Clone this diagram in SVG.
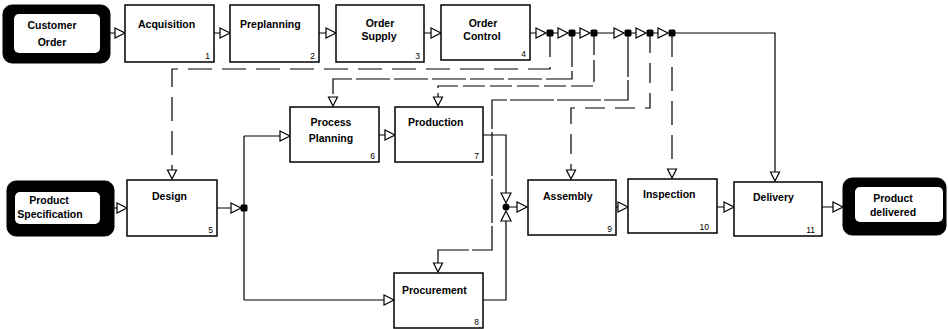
<svg xmlns="http://www.w3.org/2000/svg" xmlns:xlink="http://www.w3.org/1999/xlink" width="948" height="329" viewBox="0 0 948 329">
<style>
.box{fill:#fff;stroke:#000;stroke-width:1.5}
.term{fill:#000;stroke:#000;stroke-width:1}
.inner{fill:#fff;stroke:none}
.t{font-family:"Liberation Sans",Arial,sans-serif;font-weight:bold;font-size:10.5px;fill:#000}
.n{font-family:"Liberation Sans",Arial,sans-serif;font-size:8.5px;fill:#000;text-anchor:end}
.c{text-anchor:middle}
.ln{fill:none;stroke:#000;stroke-width:1.2}
.d1{stroke-dasharray:24 10}
.d2{stroke-dasharray:34 4}
.d3{stroke-dasharray:22 5}
.d4{stroke-dasharray:44 3}
.d5{stroke-dasharray:20 10}
.tri{fill:#fff;stroke:#000;stroke-width:1.2}
.dot{fill:#000}
</style>
<defs>
<polygon id="tr" class="tri" points="0,-5 10,0 0,5"/>
<polygon id="td" class="tri" points="-5,0 5,0 0,10"/>
<polygon id="tu" class="tri" points="-5,0 5,0 0,-10"/>
<polygon id="tc" class="tri" points="-4.5,-10 4.5,-10 0,-1"/>
<rect id="dt" class="dot" x="-3.5" y="-3.5" width="7" height="7" rx="1.5"/>
</defs>

<g id="connectors">
<path class="ln" d="M110 33H115M214 33H220M319 33H326M424 33H431"/>
<use href="#tr" x="115" y="33"/>
<use href="#tr" x="220" y="33"/>
<use href="#tr" x="326" y="33"/>
<use href="#tr" x="431" y="33"/>
<path class="ln" d="M530 33H536M553 33H558M575 33H580M597 33H614M631 33H636M653 33H658"/>
<path class="ln" d="M672 33H775V172"/>
<use href="#tc" x="775" y="182"/>
<path class="ln d1" d="M550 33V69H172V170"/>
<use href="#tc" x="172" y="180"/>
<path class="ln d2" d="M572 33V79H333V97"/>
<use href="#tc" x="333" y="107"/>
<path class="ln d3" d="M594 33V86H438V97"/>
<use href="#tc" x="438" y="107"/>
<path class="ln d4" d="M628 33V100H492V250H438V263"/>
<use href="#tc" x="438" y="273"/>
<path class="ln d5" d="M650 33V108H571V170"/>
<use href="#tc" x="571" y="180"/>
<path class="ln d1" d="M672 33V169"/>
<use href="#tc" x="672" y="179"/>
<use href="#tr" x="536" y="33"/>
<use href="#dt" x="550" y="33"/>
<use href="#tr" x="558" y="33"/>
<use href="#dt" x="572" y="33"/>
<use href="#tr" x="580" y="33"/>
<use href="#dt" x="594" y="33"/>
<use href="#tr" x="614" y="33"/>
<use href="#dt" x="628" y="33"/>
<use href="#tr" x="636" y="33"/>
<use href="#dt" x="650" y="33"/>
<use href="#tr" x="658" y="33"/>
<use href="#dt" x="672" y="33"/>

<path class="ln" d="M114 208H117M217 208H231"/>
<use href="#tr" x="117" y="208"/>
<use href="#tr" x="231" y="208"/>
<path class="ln" d="M244 136V300M244 136H280M244 300H384M379 135H385"/>
<use href="#dt" x="244" y="208"/>
<use href="#tr" x="280" y="136"/>
<use href="#tr" x="384" y="300"/>
<use href="#tr" x="385" y="135"/>
<path class="ln" d="M483 135H506V193M483 300H506V221M506 207H517"/>
<use href="#td" x="506" y="193"/>
<use href="#tu" x="506" y="221"/>
<circle class="dot" cx="506" cy="207" r="3.5"/>
<use href="#tr" x="517" y="207"/>
<path class="ln" d="M616 207H618M717 207H724M822 207H833"/>
<use href="#tr" x="618" y="207"/>
<use href="#tr" x="724" y="207"/>
<use href="#tr" x="833" y="207"/>
</g>

<g id="customer-order">
<rect class="term" x="3" y="5" width="107" height="58" rx="9"/>
<rect class="inner" x="14" y="14" width="86" height="39" rx="5"/>
<text class="t c" x="52" y="29">Customer</text>
<text class="t c" x="52" y="46">Order</text>
</g>
<g id="n1">
<rect class="box" x="125" y="5" width="89" height="57"/>
<text class="t" x="138" y="28">Acquisition</text>
<text class="n" x="210" y="59">1</text>
</g>
<g id="n2">
<rect class="box" x="230" y="5" width="89" height="57"/>
<text class="t" x="240" y="28">Preplanning</text>
<text class="n" x="315" y="59">2</text>
</g>
<g id="n3">
<rect class="box" x="336" y="5" width="88" height="57"/>
<text class="t c" x="380" y="27">Order</text>
<text class="t c" x="379" y="40">Supply</text>
<text class="n" x="420" y="59">3</text>
</g>
<g id="n4">
<rect class="box" x="441" y="5" width="89" height="55"/>
<text class="t c" x="483" y="27">Order</text>
<text class="t c" x="482" y="40">Control</text>
<text class="n" x="526" y="57">4</text>
</g>
<g id="product-specification">
<rect class="term" x="7" y="181" width="107" height="55" rx="9"/>
<rect class="inner" x="15" y="192" width="85" height="32" rx="5"/>
<text class="t c" x="49" y="204">Product</text>
<text class="t c" x="50" y="218">Specification</text>
</g>
<g id="n5">
<rect class="box" x="127" y="180" width="90" height="56"/>
<text class="t" x="152" y="200">Design</text>
<text class="n" x="213" y="233">5</text>
</g>
<g id="n6">
<rect class="box" x="290" y="107" width="89" height="55"/>
<text class="t c" x="331" y="126">Process</text>
<text class="t c" x="331" y="142">Planning</text>
<text class="n" x="375" y="159">6</text>
</g>
<g id="n7">
<rect class="box" x="395" y="107" width="88" height="55"/>
<text class="t" x="408" y="126">Production</text>
<text class="n" x="479" y="159">7</text>
</g>
<g id="n8">
<rect class="box" x="394" y="273" width="89" height="55"/>
<text class="t" x="402" y="294">Procurement</text>
<text class="n" x="479" y="325">8</text>
</g>
<g id="n9">
<rect class="box" x="528" y="180" width="88" height="55"/>
<text class="t" x="543" y="200">Assembly</text>
<text class="n" x="612" y="232">9</text>
</g>
<g id="n10">
<rect class="box" x="628" y="179" width="89" height="54"/>
<text class="t" x="643" y="198">Inspection</text>
<text class="n" x="709" y="230">10</text>
</g>
<g id="n11">
<rect class="box" x="734" y="182" width="88" height="54"/>
<text class="t" x="753" y="201">Delivery</text>
<text class="n" x="815" y="233">11</text>
</g>
<g id="product-delivered">
<rect class="term" x="843" y="178" width="103" height="57" rx="9"/>
<rect class="inner" x="855" y="187" width="88" height="35" rx="5"/>
<text class="t c" x="893" y="202">Product</text>
<text class="t c" x="893" y="216">delivered</text>
</g>
</svg>
